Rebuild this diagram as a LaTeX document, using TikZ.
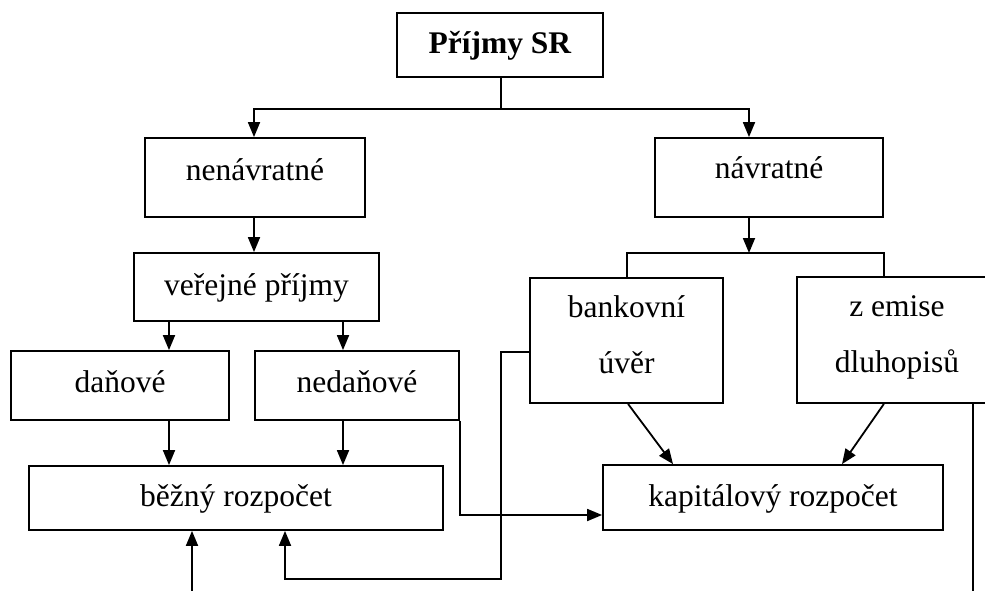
\documentclass[tikz,border=0pt]{standalone}
\usepackage{fontspec}
\setmainfont{Liberation Serif}
\usetikzlibrary{arrows.meta}
\tikzset{
  box/.style={draw, line width=1.8pt, inner sep=0pt, text height=#1, text depth=0pt,
    font=\fontsize{31.5}{56}\selectfont},
  box/.default=10pt,
  twobox/.style={draw, line width=1.8pt, inner sep=0pt, align=center, text height=#1, text depth=0pt,
    font=\fontsize{31.5}{56}\selectfont},
  ln/.style={line width=1.8pt},
  arr/.style={line width=1.8pt, -{Triangle[length=15pt,width=12pt]}}
}
\begin{document}
\begin{tikzpicture}[x=1pt,y=-1pt]
\clip (0,0) rectangle (985,591);
\fill[white] (0,0) rectangle (985,591);
% boxes
\node[box=18pt, minimum width=206pt, minimum height=64pt] (top) at (500,45) {\textbf{Příjmy SR}};
\node[box=5pt, minimum width=220pt, minimum height=79pt] (nen) at (255,177.5) {nenávratné};
\node[box=1pt, minimum width=228pt, minimum height=79pt] (nav) at (769,177.5) {návratné};
\node[box=16pt, minimum width=245pt, minimum height=68pt] (ver) at (256.5,287) {veřejné příjmy};
\node[box=13pt, minimum width=218pt, minimum height=69pt] (dan) at (120,385.5) {daňové};
\node[box=13pt, minimum width=204pt, minimum height=69pt] (ned) at (357,385.5) {nedaňové};
\node[box=16pt, minimum width=414pt, minimum height=64pt] (bez) at (236,498) {běžný rozpočet};
\node[box=17pt, minimum width=340pt, minimum height=65pt] (kap) at (773,497.5) {kapitálový rozpočet};
\node[twobox=65pt, minimum width=193pt, minimum height=125pt] (bank) at (626.5,340.5) {bankovní\\úvěr};
\node[twobox=64pt, minimum width=200pt, minimum height=126pt] (zem) at (897,340) {z emise\\dluhopisů};
% helper coordinates
\coordinate (tb) at (501,109);
\coordinate (br) at (749,253);
\coordinate (xa) at (169,0);
\coordinate (xb) at (343,0);
\coordinate (yk) at (0,515);
\coordinate (c1) at (501,579);
\coordinate (xc) at (285,0);
\coordinate (bot) at (192,591);
\coordinate (re) at (973,591);
% connectors
\draw[ln] (top.south -| tb) -- (tb);
\draw[arr] (tb) -| (nen.north -| 254,0);
\draw[arr] (tb) -| (nav.north -| br);
\draw[arr] (nen.south -| 254,0) -- (ver.north -| 254,0);
\draw[arr] (ver.south -| xa) -- (dan.north -| xa);
\draw[arr] (ver.south -| xb) -- (ned.north -| xb);
\draw[arr] (dan.south -| xa) -- (bez.north -| xa);
\draw[arr] (ned.south -| xb) -- (bez.north -| xb);
\draw[arr] (ned.south east) |- (kap.west |- yk);
\draw[arr] (nav.south -| br) -- (br);
\draw[ln] (bank.north -| 627,0) |- (br) -| (zem.north -| nav.east);
\draw[arr] ([yshift=-11.5pt]bank.west) -| (c1) -| (bez.south -| xc);
\draw[arr] (bot) -- (bez.south -| bot);
\draw[arr] ([xshift=1.5pt]bank.south) -- ([xshift=-100pt]kap.north);
\draw[arr] (zem.south -| nav.east) -- ([xshift=69pt]kap.north);
\draw[ln] (zem.south -| re) -- (re);
\end{tikzpicture}
\end{document}
